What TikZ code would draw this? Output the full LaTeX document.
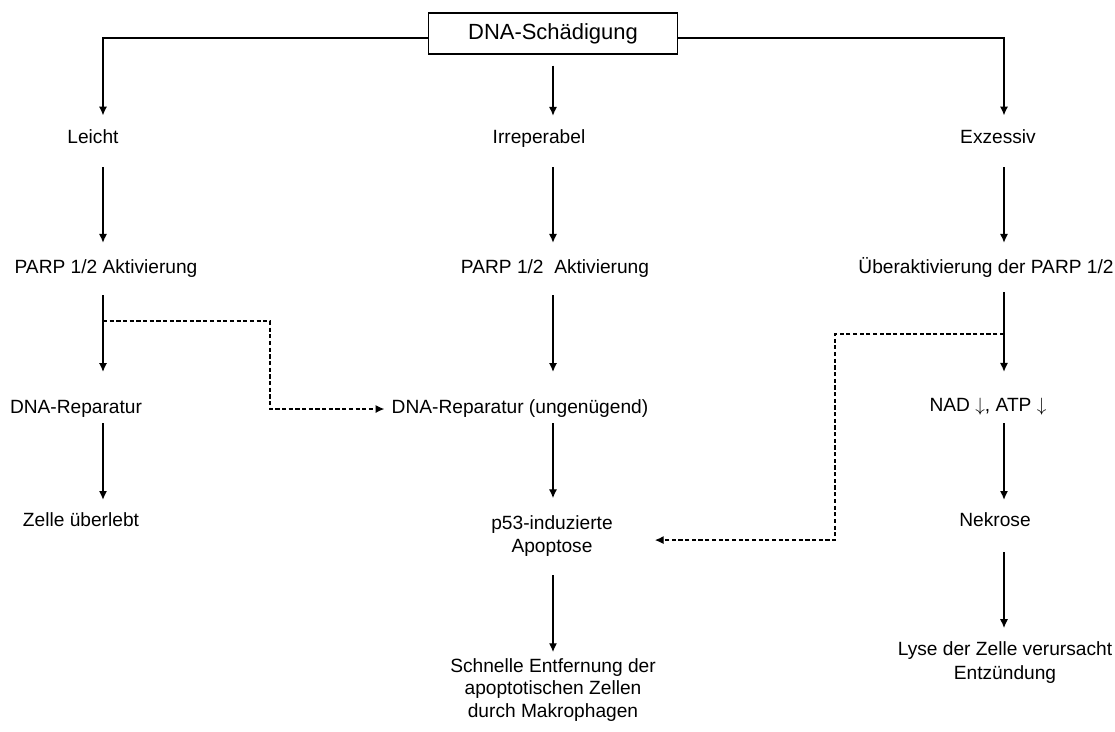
\documentclass[tikz,border=0pt]{standalone}
\usepackage{fontspec}
\setmainfont{Liberation Sans}
\usetikzlibrary{arrows.meta}

\tikzset{
  txt/.style={font=\fontsize{10.9}{13}\selectfont, inner sep=0pt, text height=8pt, text depth=2.5pt},
  mtxt/.style={font=\fontsize{10.9}{13}\selectfont, inner sep=0pt, align=center, anchor=north},
  arr/.style={line width=0.7pt, -{Latex[length=5pt,width=4.6pt]}, shorten <=10.6pt, shorten >=9.5pt},
  dashline/.style={line width=0.7pt, dash pattern=on 2.4pt off 1.4pt, -{Latex[length=5pt,width=4.6pt]}}
}

\begin{document}
\begin{tikzpicture}[x=0.02cm, y=-0.02cm]
\useasboundingbox (0,0) rectangle (1115,731);

% columns of the arrows
\coordinate (cL) at (103,0);
\coordinate (cM) at (553,0);
\coordinate (cR) at (1004,0);

\node[draw, line width=0.7pt, font=\fontsize{12.5}{14}\selectfont, minimum width=4.98cm, minimum height=0.82cm] (top) at (553,33.5) {DNA-Schädigung};

\foreach \name/\x/\t in {leicht/93/Leicht, irrep/539/Irreperabel, exzess/998/Exzessiv}
    \node[txt] (\name) at (\x,139) {\t};

\node[txt] (parpL) at (106,269) {PARP 1/2 Aktivierung};
\node[txt] (parpM) at (555,269) {PARP 1/2\ \ Aktivierung};
\node[txt] (parpR) at (986,269) {Überaktivierung der PARP 1/2};

\node[txt] (repL) at (76,409) {DNA-Reparatur};
\node[txt] (repM) at (520,409) {DNA-Reparatur (ungenügend)};
\node[txt] (nad) at (988,407) {NAD $\downarrow$, ATP $\downarrow$};

\node[txt] (zelle) at (81,522) {Zelle überlebt};
\node[mtxt] (p53) at (552,515) {p53-induzierte\\Apoptose};
\node[txt] (nekrose) at (995,522) {Nekrose};

\node[mtxt, font=\fontsize{10.9}{12.8}\selectfont] (entf) at (553,658) {Schnelle Entfernung der\\apoptotischen Zellen\\durch Makrophagen};
\node[mtxt, font=\fontsize{10.9}{14}\selectfont] (lyse) at (1005,641) {Lyse der Zelle verursacht\\Entzündung};

% from the box
\draw[arr, shorten <=0pt, shorten >=8pt] ([yshift=-2.5pt]top.west) -| (leicht.north -| cL);
\draw[arr, shorten <=6.2pt, shorten >=7.8pt] (top.south) -- (irrep.north -| cM);
\draw[arr, shorten <=0pt, shorten >=8pt] ([yshift=-2.5pt]top.east) -| (exzess.north -| cR);

\draw[arr] (leicht.south -| cL) -- (parpL.north -| cL);
\draw[arr] (irrep.south -| cM) -- (parpM.north -| cM);
\draw[arr] (exzess.south -| cR) -- (parpR.north -| cR);

\draw[arr, shorten <=9.5pt, shorten >=15.7pt] (parpL.south -| cL) -- (repL.north -| cL);
\draw[arr, shorten <=9.5pt, shorten >=15.7pt] (parpM.south -| cM) -- (repM.north -| cM);
\draw[arr, shorten <=7.8pt, shorten >=14.6pt] (parpR.south -| cR) -- (nad.north -| cR);

\draw[arr, shorten <=2.7pt, shorten >=7.2pt] (repL.south -| cL) -- (zelle.north -| cL);
\draw[arr, shorten <=2.7pt, shorten >=9.6pt] (repM.south -| cM) -- (p53.north -| cM);
\draw[arr, shorten <=3.8pt, shorten >=7.2pt] (nad.south -| cR) -- (nekrose.north -| cR);

\draw[arr, shorten <=10.8pt, shorten >=3.4pt] (p53.south -| cM) -- (entf.north -| cM);
\draw[arr, shorten <=11.7pt, shorten >=7.4pt] (nekrose.south -| cR) -- (lyse.north -| cR);

% dashed cross links
\coordinate (dL) at (103,321);
\coordinate (kL) at (270,321);
\draw[dashline, shorten >=4pt] (dL) -- (kL) |- (repM.west);

\coordinate (dR) at (1004,334);
\coordinate (kR) at (835,334);
\draw[dashline, shorten >=23.8pt] (dR) -- (kR) |- ([yshift=-2.5pt]p53.east);
\end{tikzpicture}
\end{document}
